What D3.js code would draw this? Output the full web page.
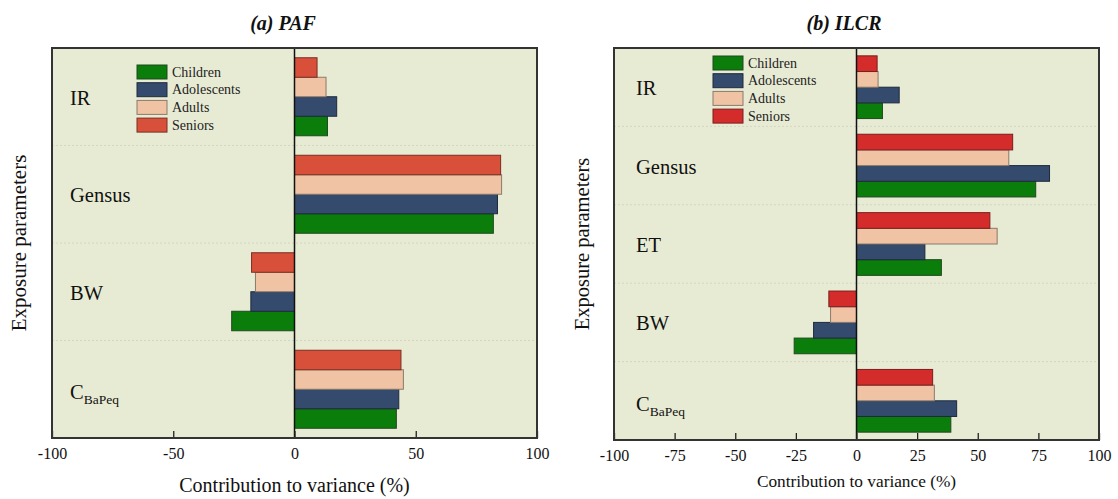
<!DOCTYPE html>
<html>
<head>
<meta charset="utf-8">
<script src="https://cdn.jsdelivr.net/npm/d3@7"></script>
<style>
  html, body { margin: 0; padding: 0; background: #ffffff; }
  svg text { font-family: "Liberation Serif", "Times New Roman", "DejaVu Serif", serif; }
</style>
</head>
<body>
<svg id="chart" width="1118" height="499"></svg>
<script>
const SERIF = "'Liberation Serif', 'Times New Roman', 'DejaVu Serif', serif";

// Age groups (legend order) and their bar colours
const groups = ["Children", "Adolescents", "Adults", "Seniors"];

// (a) PAF: contribution to variance (%) per exposure parameter
const pafParams = ["IR", "Gensus", "BW", "CBaPeq"];
const pafChildren    = [13.6, 82.0, -25.9, 42.0];
const pafAdolescents = [17.4, 83.7, -18.0, 43.0];
const pafAdults      = [13.0, 85.4, -16.1, 44.9];
const pafSeniors     = [9.3, 85.0, -17.7, 43.9];

// (b) ILCR: contribution to variance (%) per exposure parameter
const ilcrParams = ["IR", "Gensus", "ET", "BW", "CBaPeq"];
const ilcrChildren    = [10.7, 73.9, 35.0, -25.7, 38.9];
const ilcrAdolescents = [17.6, 79.6, 28.2, -17.7, 41.3];
const ilcrAdults      = [8.9, 62.8, 58.0, -10.7, 32.1];
const ilcrSeniors     = [8.5, 64.4, 55.0, -11.4, 31.4];

// Axis ticks
const pafTicks = [-100, -50, 0, 50, 100];
const ilcrTicks = [-100, -75, -50, -25, 0, 25, 50, 75, 100];

const svg = d3.select("#chart");

function drawPanel(cfg) {
  const g = svg.append("g").attr("font-family", SERIF);
  const x = d3.scaleLinear().domain([-100, 100]).range([cfg.left, cfg.right]);
  const y = d3.scaleBand().domain(cfg.params).range([cfg.top, cfg.bottom]);
  const yIn = d3.scaleBand().domain(groups.slice().reverse())
    .range([0, y.bandwidth()]).paddingOuter(0.5).paddingInner(0);
  const color = d3.scaleOrdinal().domain(groups).range(cfg.colors);
  const stroke = d3.scaleOrdinal().domain(groups).range(cfg.strokes);

  // plot background
  g.append("rect")
    .attr("x", cfg.left).attr("y", cfg.top)
    .attr("width", cfg.right - cfg.left).attr("height", cfg.bottom - cfg.top)
    .attr("fill", "#e8ebd4");

  // dotted separators between parameter bands
  g.selectAll("line.sep")
    .data(cfg.params.slice(1))
    .join("line")
    .attr("class", "sep")
    .attr("x1", cfg.left).attr("x2", cfg.right)
    .attr("y1", d => y(d)).attr("y2", d => y(d))
    .attr("stroke", "#d2d6c2").attr("stroke-width", 1)
    .attr("stroke-dasharray", "2,2");

  // bars
  const rows = [];
  cfg.params.forEach((p, i) => {
    groups.forEach(grp => rows.push({ param: p, group: grp, value: cfg.values[grp][i] }));
  });
  g.selectAll("rect.bar")
    .data(rows)
    .join("rect")
    .attr("class", "bar")
    .attr("x", d => Math.min(x(0), x(d.value)))
    .attr("width", d => Math.abs(x(d.value) - x(0)))
    .attr("y", d => y(d.param) + yIn(d.group))
    .attr("height", yIn.bandwidth())
    .attr("fill", d => color(d.group))
    .attr("stroke", d => stroke(d.group))
    .attr("stroke-width", 1);

  // zero line
  g.append("line")
    .attr("x1", x(0)).attr("x2", x(0))
    .attr("y1", cfg.top).attr("y2", cfg.bottom)
    .attr("stroke", "#111").attr("stroke-width", 1.5);

  // parameter labels inside the plot
  const lab = g.selectAll("text.param")
    .data(cfg.params)
    .join("text")
    .attr("class", "param")
    .attr("x", cfg.left + cfg.labelOffset)
    .attr("y", d => y(d) + y.bandwidth() / 2 + 8)
    .attr("font-family", SERIF)
    .attr("font-size", 20.5)
    .attr("fill", "#111");
  lab.each(function (d) {
    const t = d3.select(this);
    if (d === "CBaPeq") {
      t.attr("y", y(d) + y.bandwidth() / 2 + 10);
      t.append("tspan").text("C");
      t.append("tspan").attr("font-size", 13.5).attr("dy", 5).text("BaPeq");
    } else {
      t.text(d);
    }
  });

  // x axis with inward ticks
  const axis = d3.axisBottom(x).tickValues(cfg.ticks).tickSize(-7).tickPadding(10)
    .tickFormat(d => String(d));
  const ax = g.append("g")
    .attr("transform", `translate(0,${cfg.bottom})`)
    .call(axis)
    .attr("font-family", SERIF);
  ax.select(".domain").remove();
  ax.selectAll(".tick line").attr("stroke", "#222").attr("stroke-width", 1.3);
  ax.selectAll(".tick text")
    .attr("font-family", SERIF)
    .attr("font-size", cfg.tickFont).attr("fill", "#111");

  // frame
  g.append("rect")
    .attr("x", cfg.left).attr("y", cfg.top)
    .attr("width", cfg.right - cfg.left).attr("height", cfg.bottom - cfg.top)
    .attr("fill", "none").attr("stroke", "#333").attr("stroke-width", 2);

  // legend
  const leg = g.append("g")
    .attr("transform", `translate(${cfg.legendX},${cfg.legendY})`);
  const li = leg.selectAll("g").data(groups).join("g")
    .attr("transform", (d, i) => `translate(0,${i * 17.7})`);
  li.append("rect")
    .attr("width", 30).attr("height", 14)
    .attr("fill", d => color(d))
    .attr("stroke", d => stroke(d)).attr("stroke-width", 1);
  li.append("text")
    .attr("x", 35).attr("y", 11.5)
    .attr("font-family", SERIF)
    .attr("font-size", 14).attr("fill", "#222")
    .text(d => d);

  // titles
  g.append("text")
    .attr("x", cfg.titleX).attr("y", 30)
    .attr("text-anchor", "middle")
    .attr("font-family", SERIF)
    .attr("font-size", 20).attr("font-weight", "bold").attr("font-style", "italic")
    .attr("fill", "#111")
    .text(cfg.title);

  g.append("text")
    .attr("x", x(0)).attr("y", cfg.xTitleY)
    .attr("text-anchor", "middle")
    .attr("font-family", SERIF)
    .attr("font-size", cfg.xTitleFont).attr("fill", "#111")
    .text("Contribution to variance (%)");

  g.append("text")
    .attr("transform", `translate(${cfg.yTitleX},${(cfg.top + cfg.bottom) / 2}) rotate(-90)`)
    .attr("text-anchor", "middle")
    .attr("font-family", SERIF)
    .attr("font-size", cfg.yTitleFont).attr("fill", "#111")
    .text("Exposure parameters");
}

drawPanel({
  title: "(a) PAF",
  titleX: 283,
  params: pafParams,
  values: { Children: pafChildren, Adolescents: pafAdolescents, Adults: pafAdults, Seniors: pafSeniors },
  colors: ["#0a7d0a", "#344b6d", "#efc3a3", "#d9503a"],
  strokes: ["#1f4a1f", "#1e2a3d", "#8a7a6c", "#7a2e22"],
  ticks: pafTicks,
  left: 52, right: 537, top: 48, bottom: 438,
  labelOffset: 18,
  legendX: 137, legendY: 65,
  tickFont: 16, xTitleY: 492, xTitleFont: 20, yTitleX: 26, yTitleFont: 21
});

drawPanel({
  title: "(b) ILCR",
  titleX: 844,
  params: ilcrParams,
  values: { Children: ilcrChildren, Adolescents: ilcrAdolescents, Adults: ilcrAdults, Seniors: ilcrSeniors },
  colors: ["#0a7d0a", "#344b6d", "#efc3a3", "#d42b2b"],
  strokes: ["#1f4a1f", "#1e2a3d", "#8a7a6c", "#7a1e1e"],
  ticks: ilcrTicks,
  left: 614, right: 1099, top: 48, bottom: 440,
  labelOffset: 22,
  legendX: 713, legendY: 56,
  tickFont: 16, xTitleY: 487, xTitleFont: 17.3, yTitleX: 589, yTitleFont: 20.5
});
</script>
</body>
</html>
